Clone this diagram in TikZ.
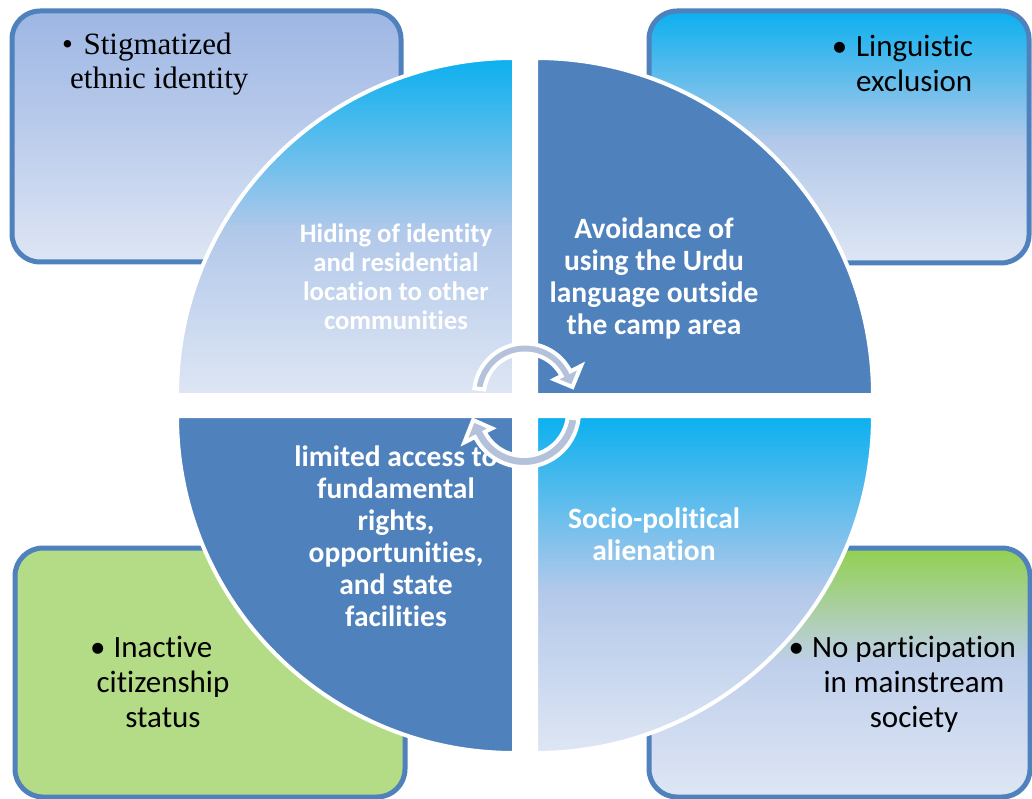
\documentclass[tikz,border=0pt]{standalone}
\usepackage{fontspec}
\setmainfont{Carlito}[Ligatures=CommonOff]
\newfontfamily\timesfont{Liberation Serif}

\definecolor{accent}{HTML}{4F81BD}
\definecolor{skyTop}{HTML}{0BB0EF}
\definecolor{skyMid}{HTML}{B3C9EA}
\definecolor{paleBlue}{HTML}{DEE6F4}
\definecolor{lavTop}{HTML}{9DB6E3}
\definecolor{lavMid}{HTML}{BCCDEC}
\definecolor{leafGreen}{HTML}{B4DC86}
\definecolor{brightGreen}{HTML}{92D050}
\definecolor{greyBlue}{HTML}{BFCFEB}
\definecolor{arrowFill}{HTML}{B3C1DB}

% vertical fades, light at the bottom
\pgfdeclareverticalshading{skyfade}{100bp}{color(0bp)=(paleBlue); color(25bp)=(paleBlue);
  color(49bp)=(skyMid); color(75bp)=(skyTop); color(100bp)=(skyTop)}
\pgfdeclareverticalshading{lavfade}{100bp}{color(0bp)=(paleBlue); color(25bp)=(paleBlue);
  color(50bp)=(lavMid); color(75bp)=(lavTop); color(100bp)=(lavTop)}
\pgfdeclareverticalshading{greenfade}{100bp}{color(0bp)=(paleBlue); color(25bp)=(paleBlue);
  color(52bp)=(greyBlue); color(75bp)=(brightGreen); color(100bp)=(brightGreen)}

% circular arrow drawn around the current origin (one px = one pt, y grows downward)
% #1 inner radius, #2 outer radius
\newcommand\cyclearrow[2]{%
  \filldraw[cyclestyle] (187:#2) arc[start angle=187, end angle=333, radius=#2]
    -- (333:#2+12) -- (351:#1/2+#2/2+2) -- (333:#1-8) -- (333:#1)
    arc[start angle=333, end angle=187, radius=#1] -- cycle;}

\begin{document}
\begin{tikzpicture}[x=1pt, y=-1pt,
  outerbox/.style={draw=accent, line width=5pt, rounded corners=28pt},
  quarter/.style={draw=white, line width=4pt},
  cyclestyle/.style={fill=arrowFill, draw=white, line width=4pt, line join=miter},
  qtext/.style={text=white, align=center, inner sep=0pt, font=\bfseries\fontsize{29.5}{32}\selectfont},
  btext/.style={text=black, inner sep=0pt, font=\fontsize{31}{35}\selectfont}]

\useasboundingbox (0,0) rectangle (1032,799);
\fill[white] (0,0) rectangle (1032,799);

% corner boxes
\path[outerbox, shading=lavfade] (12,11) rectangle (401,262);
\path[outerbox, shading=skyfade] (649,11) rectangle (1029,263);
\path[outerbox, fill=leafGreen] (15,548) rectangle (405,797);
\path[outerbox, shading=greenfade] (649,548) rectangle (1030,797);

% four quarter discs
\path[quarter, shading=skyfade]
  (514,395) -- (177,395) arc[start angle=180, end angle=270, radius=337] -- cycle;
\path[quarter, fill=accent]
  (536,395) -- (536,58) arc[start angle=270, end angle=360, radius=337] -- cycle;
\path[quarter, fill=accent]
  (514,416) -- (177,416) arc[start angle=180, end angle=90, radius=337] -- cycle;
\path[quarter, shading=skyfade]
  (536,416) -- (873,416) arc[start angle=0, end angle=90, radius=337] -- cycle;

% quarter labels
\node[qtext, font=\bfseries\fontsize{26.7}{29}\selectfont] (hiding) at (396,277)
  {Hiding of identity\\and residential\\location to other\\communities};
\node[qtext] (avoid) at (654,278)
  {Avoidance of\\using the Urdu\\language outside\\the camp area};
\node[qtext] (limited) at (396,536)
  {limited access to\\fundamental\\rights,\\opportunities,\\and state\\facilities};
\node[qtext] (socio) at (654,534)
  {Socio-political\\alienation};

% box labels
\node[btext, anchor=west, align=left, font=\timesfont\fontsize{31}{34}\selectfont] (stig) at (62,64)
  {\textbullet\hspace{10.5pt}Stigmatized\\\hspace*{8pt}ethnic identity};
\node[btext, anchor=west, align=left] (ling) at (856,63)
  {\llap{\textbullet\hspace{9pt}}Linguistic\\exclusion};
\node[btext, align=center] (inact) at (163,682)
  {\llap{\textbullet\hspace{8pt}}Inactive\\citizenship\\status};
\node[btext, align=center] (nopart) at (914,684)
  {\llap{\textbullet\hspace{8pt}}No participation\\in mainstream\\society};

% cycle arrows in the middle
\begin{scope}[shift={(525,394.5)}]
  \cyclearrow{41}{51}
\end{scope}
\begin{scope}[shift={(524,412)}, rotate=180]
  \cyclearrow{44}{55}
\end{scope}
\end{tikzpicture}
\end{document}
